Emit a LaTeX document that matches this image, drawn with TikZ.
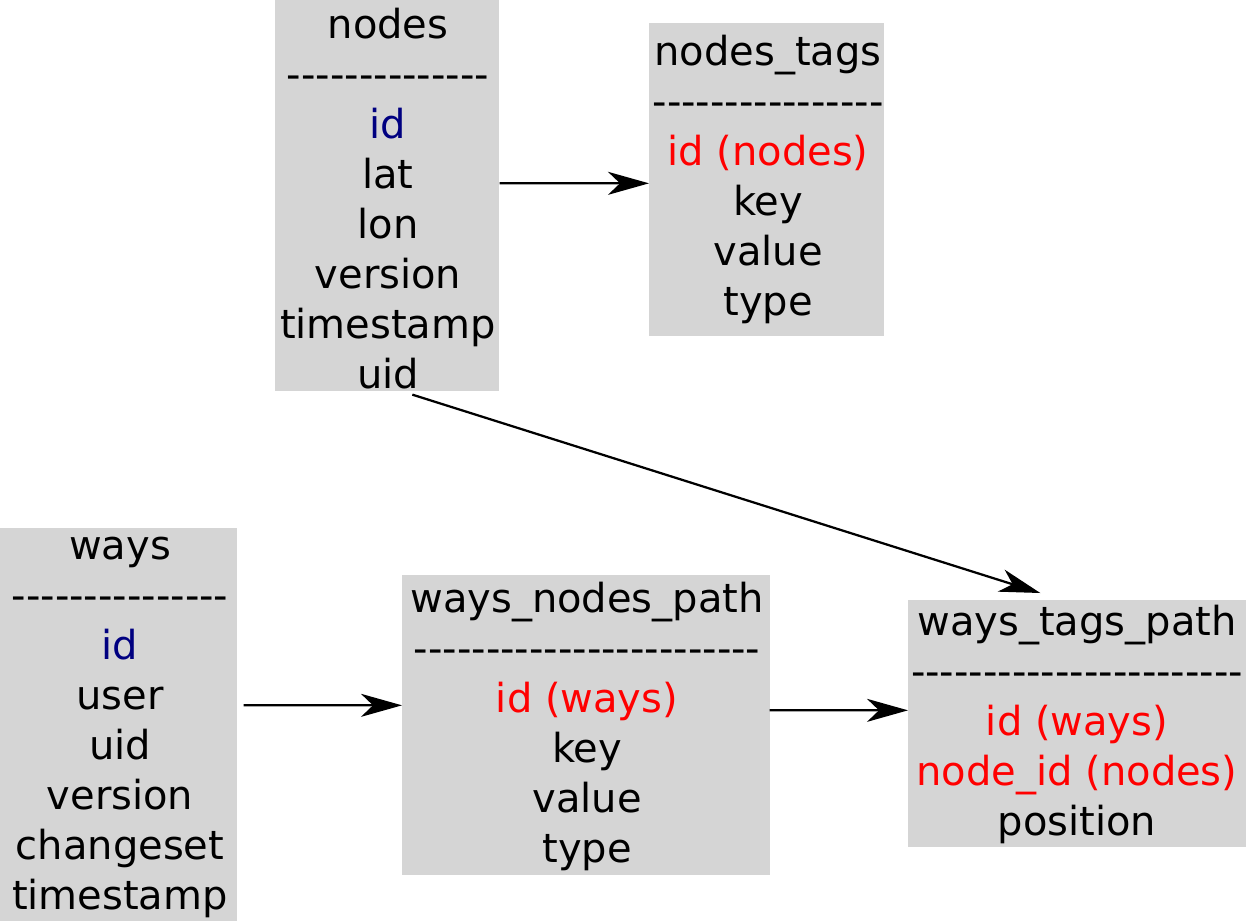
\documentclass[tikz,border=0pt]{standalone}
\usepackage{fontspec}
\setmainfont{DejaVu Sans}[Ligatures=TeXOff]
\usetikzlibrary{arrows.meta}
\definecolor{boxgray}{HTML}{D5D5D5}
\definecolor{keyblue}{HTML}{000080}
\definecolor{fkred}{HTML}{FF0000}
\begin{document}
\begin{tikzpicture}[x=0.02cm,y=-0.02cm,
  tbl/.style={fill=boxgray,draw=none,inner sep=0pt,anchor=north west},
  line/.style={anchor=base,inner sep=0pt,font=\fontsize{22.76pt}{28.45pt}\selectfont},
  arr/.style={line width=0.045cm,-{Stealth[length=0.82cm,width=0.46cm,inset=0.24cm]}}]
\useasboundingbox (0,0) rectangle (1248,921);
% boxes
\node[tbl,minimum width=4.48cm,minimum height=7.82cm] (nodes) at (275,0) {};
\node[tbl,minimum width=4.70cm,minimum height=6.26cm] (nt) at (649,23) {};
\node[tbl,minimum width=4.74cm,minimum height=7.86cm] (ways) at (0,528) {};
\node[tbl,minimum width=7.36cm,minimum height=6.00cm] (wnp) at (402,575) {};
\node[tbl,minimum width=6.76cm,minimum height=4.94cm] (wtp) at (908,600) {};
% texts
\foreach \t [count=\i] in {nodes,{--------------},{\color{keyblue}id},lat,lon,version,timestamp,uid}
  \node[line] (nodes-\i) at (388,{38+50*(\i-1)}) {\t};
\foreach \t [count=\i] in {nodes\_tags,{----------------},{\color{fkred}id (nodes)},key,value,type}
  \node[line] (nt-\i) at (768,{65+50*(\i-1)}) {\t};
\foreach \t [count=\i] in {ways,{---------------},{\color{keyblue}id},user,uid,version,changeset,timestamp}
  \node[line] (ways-\i) at (120,{559+50*(\i-1)}) {\t};
\foreach \t [count=\i] in {ways\_nodes\_path,{------------------------},{\color{fkred}id (ways)},key,value,type}
  \node[line] (wnp-\i) at (587,{612+50*(\i-1)}) {\t};
\foreach \t [count=\i] in {ways\_tags\_path,{-----------------------},{\color{fkred}id (ways)},{\color{fkred}node\_id (nodes)},position}
  \node[line] (wtp-\i) at (1077,{635+50*(\i-1)}) {\t};
% connectors
\draw[arr] ([shift={(0,-12.5)}]nodes.east) -- ([shift={(0,3.5)}]nt.west);
\draw[arr] ([shift={(25,3)}]nodes.south) -- ([shift={(-37,-7)}]wtp.north);
\draw[arr] ([shift={(6,-19.5)}]ways.east) -- ([shift={(0,-20)}]wnp.west);
\draw[arr] ([shift={(-1,-15)}]wnp.east) -- ([shift={(0,-13.5)}]wtp.west);
\end{tikzpicture}
\end{document}
